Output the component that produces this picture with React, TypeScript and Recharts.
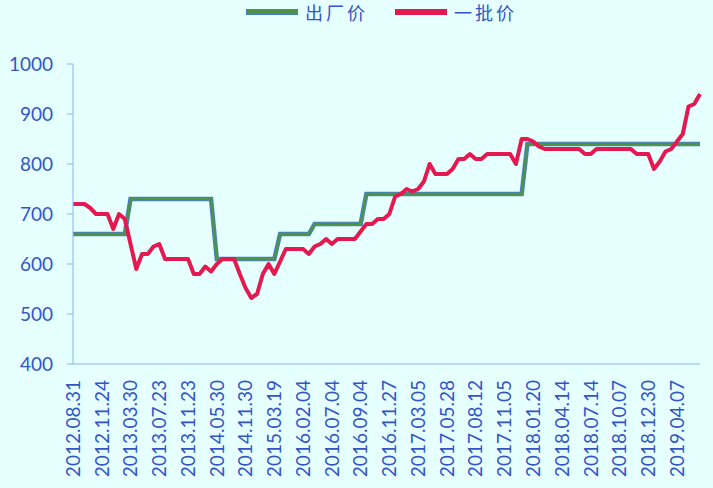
import { LineChart, Line, XAxis, YAxis } from 'recharts';

// label every 5th point on the category axis
const tickLabels = [
  '2012.08.31', '2012.11.24', '2013.03.30', '2013.07.23', '2013.11.23', '2014.05.30',
  '2014.11.30', '2015.03.19', '2016.02.04', '2016.07.04', '2016.09.04', '2016.11.27',
  '2017.03.05', '2017.05.28', '2017.08.12', '2017.11.05', '2018.01.20', '2018.04.14',
  '2018.07.14', '2018.10.07', '2018.12.30', '2019.04.07',
];

// 出厂价
const factoryPrice = [
  660, 660, 660, 660, 660, 660, 660, 660, 660, 660,
  730, 730, 730, 730, 730, 730, 730, 730, 730, 730, 730, 730, 730, 730, 730,
  610, 610, 610, 610, 610, 610, 610, 610, 610, 610, 610,
  660, 660, 660, 660, 660, 660,
  680, 680, 680, 680, 680, 680, 680, 680, 680,
  740, 740, 740, 740, 740, 740, 740, 740, 740, 740, 740, 740, 740, 740,
  740, 740, 740, 740, 740, 740, 740, 740, 740, 740, 740, 740, 740, 740,
  840, 840, 840, 840, 840, 840, 840, 840, 840, 840, 840, 840, 840, 840, 840, 840,
  840, 840, 840, 840, 840, 840, 840, 840, 840, 840, 840, 840, 840, 840, 840,
];

// 一批价
const wholesalePrice = [
  720, 720, 720, 712, 700, 700, 700, 670, 700, 690,
  640, 590, 620, 620, 635, 640, 610, 610, 610, 610,
  610, 580, 580, 595, 585, 600, 610, 610, 610, 580,
  552, 532, 540, 580, 600, 580, 605, 630, 630, 630,
  630, 620, 635, 640, 650, 640, 650, 650, 650, 650,
  665, 680, 680, 690, 690, 700, 735, 740, 750, 745,
  750, 765, 800, 780, 780, 780, 790, 810, 810, 820,
  810, 810, 820, 820, 820, 820, 820, 800, 850, 850,
  845, 835, 830, 830, 830, 830, 830, 830, 830, 820,
  820, 830, 830, 830, 830, 830, 830, 830, 820, 820,
  820, 790, 805, 825, 830, 845, 860, 915, 920, 940,
];

const yTicks = [400, 500, 600, 700, 800, 900, 1000];

const data = factoryPrice.map((v, i) => ({
  i,
  factory: v,
  wholesale: wholesalePrice[i],
}));

const xTicks = tickLabels.map((_, k) => k * 5);

const BG = '#E6FFFF';
const TEXT = '#3355C8';
const AXIS = '#8DB3EA';
const GREEN = '#4E9445';
const GREEN_EDGE = '#4A7FC8';
const RED = '#E5194F';

const legendItems = [
  { name: '出厂价', color: GREEN, edge: GREEN_EDGE },
  { name: '一批价', color: RED, edge: RED },
];

function XTick({ x, y, payload }: any) {
  return (
    <text
      x={x}
      y={y + 8}
      transform={`rotate(-90, ${x}, ${y + 8})`}
      textAnchor="end"
      dy="0.36em"
      fill={TEXT}
      fontSize={19}
      fontFamily="Lato"
    >
      {tickLabels[payload.value / 5]}
    </text>
  );
}

function ChartLegend() {
  return (
    <div style={{ position: 'absolute', top: 1, left: 247, display: 'flex', alignItems: 'center', height: 22 }}>
      {legendItems.map((it, k) => (
        <div key={it.name} style={{ display: 'flex', alignItems: 'center', marginRight: k === 0 ? 28 : 0 }}>
          <span
            style={{
              display: 'inline-block',
              width: 50,
              height: 4,
              background: it.color,
              boxShadow: `0 0 0 1px ${it.edge}`,
              marginRight: 8,
            }}
          />
          <span style={{ color: TEXT, fontSize: 18, letterSpacing: 3, fontFamily: '"Noto Sans CJK SC"', lineHeight: '22px' }}>
            {it.name}
          </span>
        </div>
      ))}
    </div>
  );
}

export default function App() {
  return (
    <div style={{ position: 'absolute', left: 0, top: 0, width: 713, height: 488, background: BG }}>
      <ChartLegend />
      <LineChart width={713} height={488} data={data} margin={{ top: 64, right: 13, bottom: 0, left: 0 }}>
        <XAxis
          dataKey="i"
          type="number"
          domain={[0, 109]}
          ticks={xTicks}
          interval={0}
          height={124}
          stroke={AXIS}
          tickLine={false}
          tick={<XTick />}
        />
        <YAxis
          domain={[400, 1000]}
          ticks={yTicks}
          width={73}
          stroke={AXIS}
          tickSize={6}
          tickMargin={14}
          tick={{ fill: TEXT, fontSize: 19, fontFamily: 'Lato' }}
        />
        <Line
          dataKey="factory"
          type="linear"
          stroke={GREEN_EDGE}
          strokeWidth={4.5}
          dot={false}
          legendType="none"
          isAnimationActive={false}
        />
        <Line
          dataKey="factory"
          name="出厂价"
          type="linear"
          stroke={GREEN}
          strokeWidth={2.5}
          dot={false}
          isAnimationActive={false}
        />
        <Line
          dataKey="wholesale"
          name="一批价"
          type="linear"
          stroke={RED}
          strokeWidth={4}
          strokeLinejoin="round"
          dot={false}
          isAnimationActive={false}
        />
      </LineChart>
    </div>
  );
}
